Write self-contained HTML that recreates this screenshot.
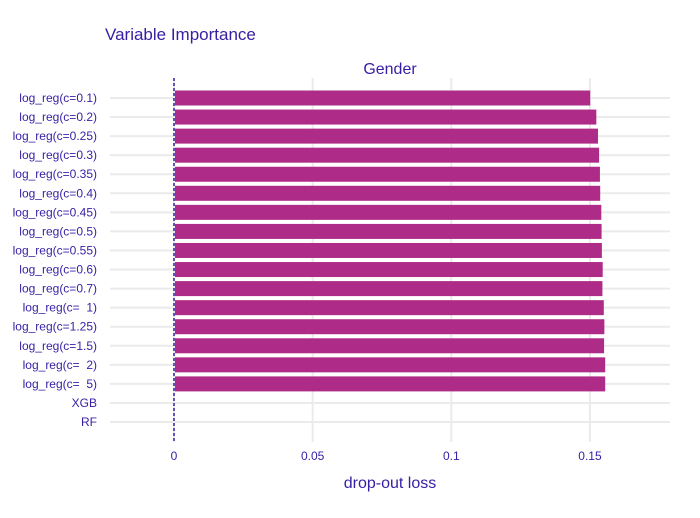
<!DOCTYPE html>
<html><head><meta charset="utf-8"><style>
body{margin:0;background:#fff;font-family:"Liberation Sans",sans-serif}
svg text{font-family:"Liberation Sans",sans-serif}
</style></head><body>
<svg id="chart" width="700" height="513" viewBox="0 0 700 513">
<text x="105" y="40" font-size="17" fill="#371ea3">Variable Importance</text>
<text x="390" y="74" font-size="16" fill="#371ea3" text-anchor="middle">Gender</text>
<text x="390" y="488" font-size="16" fill="#371ea3" text-anchor="middle">drop-out loss</text>
<g id="grid"></g><g id="bars"></g><g id="labels"></g>
</svg>
<script>
const categories=["log_reg(c=0.1)","log_reg(c=0.2)","log_reg(c=0.25)","log_reg(c=0.3)","log_reg(c=0.35)","log_reg(c=0.4)","log_reg(c=0.45)","log_reg(c=0.5)","log_reg(c=0.55)","log_reg(c=0.6)","log_reg(c=0.7)","log_reg(c=  1)","log_reg(c=1.25)","log_reg(c=1.5)","log_reg(c=  2)","log_reg(c=  5)","XGB","RF"];
const values=[0.1501,0.1523,0.1529,0.1533,0.1536,0.1537,0.1541,0.1542,0.1543,0.1546,0.1545,0.1550,0.1552,0.1551,0.1555,0.1555,0,0];
const ticks=[0,0.05,0.1,0.15];
const tickLabels=["0","0.05","0.1","0.15"];
const NS="http://www.w3.org/2000/svg";
const x=v=>174+v*2773;
const y=i=>98+i*19.06;
function mk(tag,attrs,parent){const e=document.createElementNS(NS,tag);for(const k in attrs)e.setAttribute(k,attrs[k]);document.getElementById(parent).appendChild(e);return e;}
ticks.forEach((t,i)=>{
 const g=mk("line",{x1:x(t),x2:x(t),y1:78,y2:442,stroke:"#ebebeb","stroke-width":2},"grid");
 
 
 const tl=mk("text",{x:x(t),y:460,"font-size":12,fill:"#371ea3","text-anchor":"middle"},"labels");
 tl.textContent=tickLabels[i];
 
 
});
categories.forEach((c,i)=>{
 const g=mk("line",{x1:110,x2:670,y1:y(i),y2:y(i),stroke:"#ebebeb","stroke-width":2},"grid");
 
 
 const l=mk("text",{x:97,y:y(i)+4,"font-size":12,fill:"#371ea3","text-anchor":"end"},"labels");
 l.style.whiteSpace="pre";
 l.textContent=c;
 
 
 if(values[i]>0){
  const b=mk("rect",{x:x(0)+1,y:y(i)-7.5,width:x(values[i])-x(0)-1,height:15,fill:"#ae2c87"},"bars");
  
  
 }
});
const z=mk("line",{x1:x(0),x2:x(0),y1:78,y2:442,stroke:"#371ea3","stroke-width":1.5,"stroke-dasharray":"3,2"},"bars");


</script>
</body></html>
